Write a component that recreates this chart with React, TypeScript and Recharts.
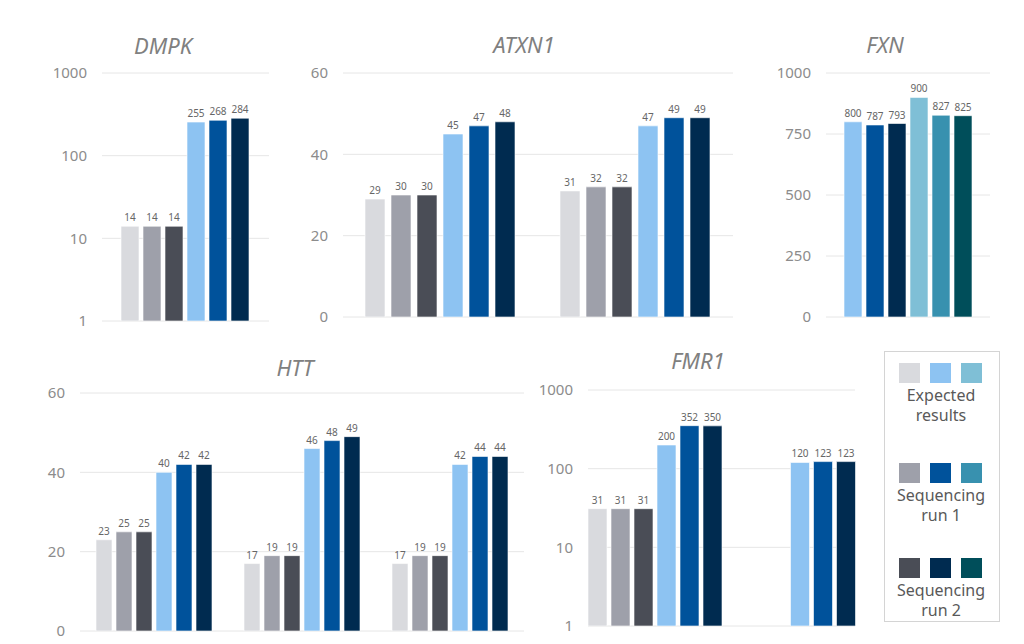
import React from "react";
import { BarChart, Bar, XAxis, YAxis, CartesianGrid, LabelList } from "recharts";

// ---------- DATA ----------
const SERIES_KEYS = ["s1", "s2", "s3", "s4", "s5", "s6"];

const GRAY_BLUE_COLORS = ["#D9DADE", "#9EA0AA", "#4A4D56", "#8DC3F2", "#00529B", "#002B50"];
const BLUE_TEAL_COLORS = ["#8DC3F2", "#00529B", "#002B50", "#7FBFD6", "#3891AF", "#004E5A"];

const LOG_TICKS = [1, 10, 100, 1000];
const REPEAT_TICKS = [0, 20, 40, 60];
const FXN_TICKS = [0, 250, 500, 750, 1000];

// DMPK
const DMPK_SAMPLES = ["Sample 1"];
const DMPK_EXP_NORMAL = [14];
const DMPK_RUN1_NORMAL = [14];
const DMPK_RUN2_NORMAL = [14];
const DMPK_EXP_EXPANDED = [255];
const DMPK_RUN1_EXPANDED = [268];
const DMPK_RUN2_EXPANDED = [284];

// ATXN1
const ATXN1_SAMPLES = ["Sample 1", "Sample 2"];
const ATXN1_EXP_NORMAL = [29, 31];
const ATXN1_RUN1_NORMAL = [30, 32];
const ATXN1_RUN2_NORMAL = [30, 32];
const ATXN1_EXP_EXPANDED = [45, 47];
const ATXN1_RUN1_EXPANDED = [47, 49];
const ATXN1_RUN2_EXPANDED = [48, 49];

// FXN
const FXN_SAMPLES = ["Sample 1"];
const FXN_EXP_ALLELE1 = [800];
const FXN_RUN1_ALLELE1 = [787];
const FXN_RUN2_ALLELE1 = [793];
const FXN_EXP_ALLELE2 = [900];
const FXN_RUN1_ALLELE2 = [827];
const FXN_RUN2_ALLELE2 = [825];

// HTT
const HTT_SAMPLES = ["Sample 1", "Sample 2", "Sample 3"];
const HTT_EXP_NORMAL = [23, 17, 17];
const HTT_RUN1_NORMAL = [25, 19, 19];
const HTT_RUN2_NORMAL = [25, 19, 19];
const HTT_EXP_EXPANDED = [40, 46, 42];
const HTT_RUN1_EXPANDED = [42, 48, 44];
const HTT_RUN2_EXPANDED = [42, 49, 44];

// FMR1
const FMR1_SAMPLES = ["Sample 1", "Sample 2"];
const FMR1_EXP_NORMAL = [31, null];
const FMR1_RUN1_NORMAL = [31, null];
const FMR1_RUN2_NORMAL = [31, null];
const FMR1_EXP_EXPANDED = [200, 120];
const FMR1_RUN1_EXPANDED = [352, 123];
const FMR1_RUN2_EXPANDED = [350, 123];

type Row = { sample: string; [k: string]: string | number | null };

function buildRows(samples: string[], series: (number | null)[][]): Row[] {
  return samples.map((sample, i) => {
    const row: Row = { sample };
    series.forEach((vals, j) => {
      row[SERIES_KEYS[j]] = vals[i];
    });
    return row;
  });
}

const dmpkData = buildRows(DMPK_SAMPLES, [DMPK_EXP_NORMAL, DMPK_RUN1_NORMAL, DMPK_RUN2_NORMAL, DMPK_EXP_EXPANDED, DMPK_RUN1_EXPANDED, DMPK_RUN2_EXPANDED]);
const atxn1Data = buildRows(ATXN1_SAMPLES, [ATXN1_EXP_NORMAL, ATXN1_RUN1_NORMAL, ATXN1_RUN2_NORMAL, ATXN1_EXP_EXPANDED, ATXN1_RUN1_EXPANDED, ATXN1_RUN2_EXPANDED]);
const fxnData = buildRows(FXN_SAMPLES, [FXN_EXP_ALLELE1, FXN_RUN1_ALLELE1, FXN_RUN2_ALLELE1, FXN_EXP_ALLELE2, FXN_RUN1_ALLELE2, FXN_RUN2_ALLELE2]);
const httData = buildRows(HTT_SAMPLES, [HTT_EXP_NORMAL, HTT_RUN1_NORMAL, HTT_RUN2_NORMAL, HTT_EXP_EXPANDED, HTT_RUN1_EXPANDED, HTT_RUN2_EXPANDED]);
const fmr1Data = buildRows(FMR1_SAMPLES, [FMR1_EXP_NORMAL, FMR1_RUN1_NORMAL, FMR1_RUN2_NORMAL, FMR1_EXP_EXPANDED, FMR1_RUN1_EXPANDED, FMR1_RUN2_EXPANDED]);

const LEGEND_GROUPS = [
  { lines: ["Expected", "results"], colors: ["#D9DADE", "#8DC3F2", "#7FBFD6"] },
  { lines: ["Sequencing", "run 1"], colors: ["#9EA0AA", "#00529B", "#3891AF"] },
  { lines: ["Sequencing", "run 2"], colors: ["#4A4D56", "#002B50", "#004E5A"] },
];

// ---------- COMPONENTS ----------
const FONT = "'Noto Sans', 'Open Sans', sans-serif";

type PanelProps = {
  title: string;
  titleX: number;
  titleY: number;
  data: Row[];
  colors: string[];
  plotLeft: number;
  plotTop: number;
  plotRight: number;
  plotBottom: number;
  log?: boolean;
  domain: [number, number];
  ticks: number[];
  catGap: number;
  barGap: number;
};

function Panel(p: PanelProps) {
  const yAxisW = 60;
  const mTop = 12;
  const mBottom = 12;
  const mRight = 6;
  const plotW = p.plotRight - p.plotLeft;
  const plotH = p.plotBottom - p.plotTop;
  const width = yAxisW + plotW + mRight;
  const height = mTop + plotH + mBottom;
  return (
    <>
      <div
        style={{
          position: "absolute",
          left: p.titleX - 100,
          top: p.titleY - 15,
          width: 200,
          height: 30,
          lineHeight: "30px",
          textAlign: "center",
          fontFamily: FONT,
          fontStyle: "italic",
          fontSize: 22,
          color: "#808080",
        }}
      >
        {p.title}
      </div>
      <div style={{ position: "absolute", left: p.plotLeft - yAxisW, top: p.plotTop - mTop }}>
        <BarChart
          width={width}
          height={height}
          data={p.data}
          margin={{ top: mTop, right: mRight, bottom: mBottom, left: 0 }}
          barCategoryGap={p.catGap}
          barGap={p.barGap}
        >
          <CartesianGrid vertical={false} stroke="#e6e6e6" strokeWidth={1} />
          <XAxis dataKey="sample" hide />
          <YAxis
            width={yAxisW}
            type="number"
            scale={p.log ? "log" : "linear"}
            domain={p.domain}
            ticks={p.ticks}
            allowDataOverflow
            tickLine={false}
            axisLine={false}
            tickMargin={9}
            tick={{ fontSize: 15, fill: "#8c8c8c", fontFamily: FONT }}
            interval={0}
          />
          {SERIES_KEYS.map((k, i) => (
            <Bar key={k} dataKey={k} fill={p.colors[i]} stroke="#ffffff" strokeWidth={0.6} isAnimationActive={false}>
              <LabelList dataKey={k} position="top" offset={5} style={{ fontSize: 10, fill: "#666666", fontFamily: FONT }} />
            </Bar>
          ))}
        </BarChart>
      </div>
    </>
  );
}

function LegendBox() {
  const rowTops = [362, 462, 557];
  const boxLeft = 884;
  const boxTop = 351;
  return (
    <div
      style={{
        position: "absolute",
        left: boxLeft,
        top: boxTop,
        width: 114,
        height: 269,
        border: "1px solid #d4d4d4",
        fontFamily: FONT,
      }}
    >
      {LEGEND_GROUPS.map((g, gi) => (
        <div key={gi} style={{ position: "absolute", left: 0, top: rowTops[gi] - boxTop, width: 114 }}>
          <div style={{ display: "flex", justifyContent: "center", gap: 10, marginLeft: -4 }}>
            {g.colors.map((c, ci) => (
              <div key={ci} style={{ width: 21, height: 20, background: c }} />
            ))}
          </div>
          <div
            style={{
              marginTop: 2,
              textAlign: "center",
              fontSize: 16,
              lineHeight: "20px",
              color: "#595959",
              marginLeft: -2,
            }}
          >
            {g.lines.map((l, li) => (
              <div key={li}>{l}</div>
            ))}
          </div>
        </div>
      ))}
    </div>
  );
}

export default function App() {
  return (
    <div style={{ position: "absolute", left: 0, top: 0, width: 1024, height: 644, background: "#ffffff", overflow: "hidden" }}>
      <Panel
        title="DMPK"
        titleX={163}
        titleY={45}
        data={dmpkData}
        colors={GRAY_BLUE_COLORS}
        plotLeft={102}
        plotTop={73}
        plotRight={269}
        plotBottom={321}
        log
        domain={[1, 1000]}
        ticks={LOG_TICKS}
        catGap={19}
        barGap={4}
      />
      <Panel
        title="ATXN1"
        titleX={524}
        titleY={44}
        data={atxn1Data}
        colors={GRAY_BLUE_COLORS}
        plotLeft={343}
        plotTop={73}
        plotRight={733}
        plotBottom={317}
        domain={[0, 60]}
        ticks={REPEAT_TICKS}
        catGap={22}
        barGap={6}
      />
      <Panel
        title="FXN"
        titleX={885}
        titleY={44}
        data={fxnData}
        colors={BLUE_TEAL_COLORS}
        plotLeft={826}
        plotTop={73}
        plotRight={990}
        plotBottom={317}
        domain={[0, 1000]}
        ticks={FXN_TICKS}
        catGap={18}
        barGap={4}
      />
      <Panel
        title="HTT"
        titleX={295}
        titleY={367}
        data={httData}
        colors={GRAY_BLUE_COLORS}
        plotLeft={80}
        plotTop={393}
        plotRight={524}
        plotBottom={631}
        domain={[0, 60]}
        ticks={REPEAT_TICKS}
        catGap={16}
        barGap={4}
      />
      <Panel
        title="FMR1"
        titleX={698}
        titleY={360}
        data={fmr1Data}
        colors={GRAY_BLUE_COLORS}
        plotLeft={588}
        plotTop={390}
        plotRight={855}
        plotBottom={626}
        log
        domain={[1, 1000]}
        ticks={LOG_TICKS}
        catGap={0}
        barGap={4}
      />
      <LegendBox />
    </div>
  );
}
